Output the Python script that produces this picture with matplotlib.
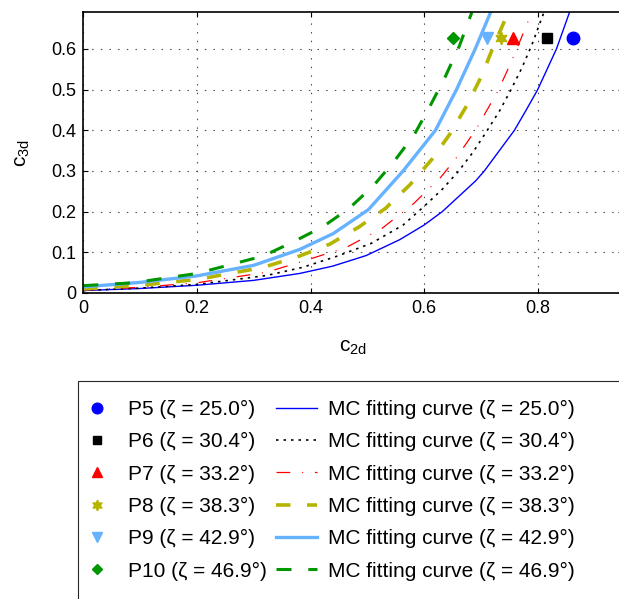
import matplotlib
matplotlib.use("Agg")
import matplotlib.pyplot as plt
from matplotlib.lines import Line2D
from matplotlib.patches import Rectangle

plt.rcParams["font.family"] = ["Liberation Sans", "DejaVu Sans"]
plt.rcParams["mathtext.default"] = "regular"

# measured points (c2d, c3d)
point_labels = ["P5", "P6", "P7", "P8", "P9", "P10"]
zeta = [25.0, 30.4, 33.2, 38.3, 42.9, 46.9]
point_c2d = [0.863, 0.817, 0.757, 0.735, 0.710, 0.650]
point_c3d = [0.626, 0.626, 0.626, 0.626, 0.626, 0.626]

# MC fitting curves
fit25_x = [0, 0.1, 0.2, 0.3, 0.381, 0.439, 0.498, 0.557, 0.6, 0.632, 0.691, 0.706, 0.759, 0.779, 0.8, 0.833, 0.856]
fit25_y = [0.006, 0.011, 0.019, 0.031, 0.048, 0.066, 0.092, 0.131, 0.167, 0.2, 0.276, 0.3, 0.4, 0.448, 0.5, 0.6, 0.69]
fit30_x = [0, 0.1, 0.2, 0.323, 0.386, 0.448, 0.507, 0.563, 0.6, 0.632, 0.661, 0.686, 0.709, 0.733,
           0.753, 0.772, 0.79, 0.805, 0.811]
fit30_y = [0.006, 0.012, 0.021, 0.043, 0.063, 0.091, 0.122, 0.167, 0.213, 0.255, 0.3, 0.346, 0.395, 0.448,
           0.5, 0.553, 0.611, 0.668, 0.69]
fit33_x = [0, 0.1, 0.2, 0.323, 0.398, 0.463, 0.526, 0.581, 0.629, 0.655, 0.675, 0.693, 0.71, 0.728,
           0.744, 0.757, 0.772, 0.784, 0.79]
fit33_y = [0.007, 0.014, 0.025, 0.051, 0.083, 0.112, 0.159, 0.219, 0.284, 0.329, 0.369, 0.406, 0.448, 0.491,
           0.539, 0.58, 0.63, 0.671, 0.69]
fit38_x = [0, 0.1, 0.2, 0.317, 0.381, 0.434, 0.485, 0.532, 0.575, 0.614, 0.646, 0.676, 0.701, 0.722, 0.745, 0.749]
fit38_y = [0.010, 0.019, 0.033, 0.063, 0.091, 0.120, 0.162, 0.208, 0.266, 0.329, 0.392, 0.463, 0.533, 0.606, 0.68, 0.69]
fit43_x = [0, 0.1, 0.2, 0.3, 0.381, 0.44, 0.502, 0.563, 0.62, 0.657, 0.69, 0.717]
fit43_y = [0.015, 0.026, 0.042, 0.068, 0.107, 0.146, 0.205, 0.3, 0.4, 0.5, 0.6, 0.69]
fit47_x = [0, 0.088, 0.2, 0.317, 0.37, 0.422, 0.468, 0.511, 0.548, 0.583, 0.611, 0.637, 0.662, 0.684]
fit47_y = [0.018, 0.025, 0.048, 0.091, 0.126, 0.163, 0.208, 0.264, 0.325, 0.39, 0.461, 0.531, 0.607, 0.69]

x_ticks = [0, 0.2, 0.4, 0.6, 0.8]
x_tick_labels = ["0", "0.2", "0.4", "0.6", "0.8"]
y_ticks = [0, 0.1, 0.2, 0.3, 0.4, 0.5, 0.6]
y_tick_labels = ["0", "0.1", "0.2", "0.3", "0.4", "0.5", "0.6"]

colors = ["#0000ff", "#000000", "#ff0000", "#b5b500", "#66b2ff", "#009600"]
markers = ["o", "s", "^", (6, 1, 0), "v", "D"]
marker_sizes = [9, 6.7, 8.5, 9, 8.5, 6.3]
line_styles = ["-", (0, (1.5, 3)), (0, (11, 9.5, 0.8, 9.5)), (0, (4, 4.6)), "-", (0, (4.9, 5.5))]
line_widths = [1.0, 1.2, 0.9, 2.6, 2.4, 2.2]

fig = plt.figure(figsize=(6.19, 5.99), dpi=100)
ax = fig.add_axes([0.1346, 0.5109, 0.8717, 0.4685])

curves = [(fit25_x, fit25_y), (fit30_x, fit30_y), (fit33_x, fit33_y),
          (fit38_x, fit38_y), (fit43_x, fit43_y), (fit47_x, fit47_y)]
for (cx, cy), c, ls, lw in zip(curves, colors, line_styles, line_widths):
    ax.plot(cx, cy, color=c, linestyle=ls, linewidth=lw)

for px, py, c, m, ms in zip(point_c2d, point_c3d, colors, markers, marker_sizes):
    ax.plot(px, py, linestyle="none", marker=m, color=c, markersize=ms)

ax.set_xlim(0, 0.95)
ax.set_ylim(0, 0.69)
ax.set_xticks(x_ticks)
ax.set_xticklabels(x_tick_labels)
ax.set_yticks(y_ticks)
ax.set_yticklabels(y_tick_labels)
ax.tick_params(direction="in", top=True, right=True, length=3.5, width=0.8, labelsize=13, pad=5)
ax.grid(True, color="0.3", linestyle=(0, (1.3, 6.5)), linewidth=0.8)
for s in ax.spines.values():
    s.set_linewidth(1.2)
ax.set_xlabel("$c_{2d}$", fontsize=15, labelpad=15)
ax.set_ylabel("$c_{3d}$", fontsize=15, labelpad=13.5)

handles = []
labels = []
for name, z, c, m, ms in zip(point_labels, zeta, colors, markers, marker_sizes):
    handles.append(Line2D([], [], linestyle="none", marker=m, color=c, markersize=ms * 0.85))
    labels.append(f"{name} (ζ = {z:.1f}°)")
for z, c, ls, lw in zip(zeta, colors, line_styles, line_widths):
    handles.append(Line2D([], [], color=c, linestyle=ls, linewidth=lw))
    labels.append(f"MC fitting curve (ζ = {z:.1f}°)")

fig.legend(handles, labels, ncol=2, loc="upper left", bbox_to_anchor=(76 / 619, 1 - 400 / 599),
           frameon=False, borderpad=0, fontsize=15, handlelength=2.0, handletextpad=0.52,
           columnspacing=0.4, labelspacing=0.635, borderaxespad=0)
fig.patches.append(Rectangle((78 / 619, -0.05), 1.0, (1 - 381 / 599) + 0.05, transform=fig.transFigure,
                             fill=False, edgecolor="0.15", linewidth=0.8))

fig.savefig("out.png", dpi=100)
